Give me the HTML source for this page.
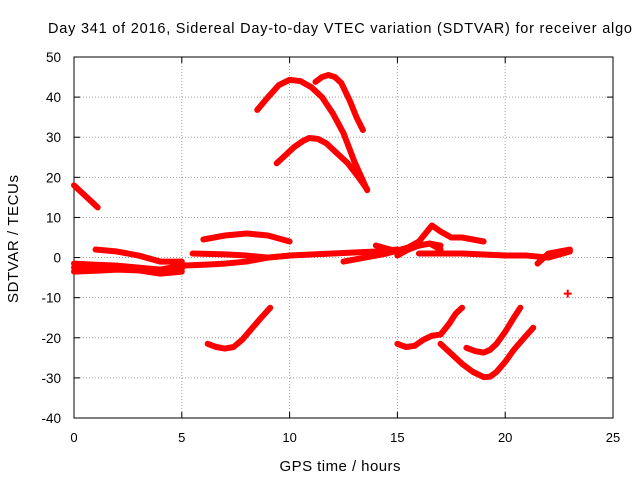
<!DOCTYPE html>
<html><head><meta charset="utf-8"><style>
body{margin:0;background:#fff}
svg{display:block;font-family:"Liberation Sans",sans-serif}
</style></head><body>
<svg id="chart" width="640" height="480">
<text x="340" y="33" font-size="14.5" text-anchor="middle" textLength="584">Day 341 of 2016, Sidereal Day-to-day VTEC variation (SDTVAR) for receiver algo</text>
<text x="340" y="471" font-size="15" text-anchor="middle" textLength="121">GPS time / hours</text>
<text transform="translate(18,239) rotate(-90)" font-size="15" text-anchor="middle" textLength="128">SDTVAR / TECUs</text>
<g id="grid"></g><g id="axes"></g><g id="series"></g>
</svg>
<script>
const xTicks=[0,5,10,15,20,25];
const yTicks=[-40,-30,-20,-10,0,10,20,30,40,50];
const trackTimes=[
[0,1.1],
[8.5,9,9.5,10,10.5,11,11.5,12,12.5,13,13.6],
[11.2,11.5,11.8,12.1,12.4,12.8,13.1,13.4],
[9.4,9.8,10.2,10.6,10.9,11.3,11.7,12.2,12.7,13.2,13.6],
[6.2,6.6,7,7.4,7.8,8.2,8.6,9.1],
[15,15.4,15.8,16.2,16.6,17,17.4,17.7,18],
[17,17.5,18,18.5,19,19.3,19.6,20,20.4,20.8,21.3],
[18.2,18.6,19,19.3,19.6,20,20.4,20.7],
[0,1,2,3,4,5],
[0,1,2,3,4,5],
[0,1,2,3,4,5],
[1,2,3,4,5],
[5,6,7,8,9,10,12,14,15],
[6,6.5,7,8,9,10],
[5.5,7,8,9,10],
[12.5,13.5,14.5,15.5,16.5,17],
[14,15,15.5,16,16.3,16.6,17,17.5,18,19],
[15,15.5,16,16.5,17],
[16,18,20,21,22,23],
[21.5,22,23]
];
const trackValues=[
[18,12.5],
[36.8,40,43,44.3,44,42.5,40,36,31,24,16.8],
[43.8,45,45.5,45,43.5,39,35,31.8],
[23.5,25.5,27.5,29,29.8,29.6,28.5,26,23.5,20,17],
[-21.5,-22.3,-22.7,-22.3,-20.5,-18,-15.5,-12.5],
[-21.5,-22.3,-22,-20.5,-19.5,-19.2,-16.5,-14,-12.5],
[-21.5,-24,-26.5,-28.5,-29.8,-29.7,-28.5,-26,-23,-20.5,-17.5],
[-22.5,-23.3,-23.7,-23,-21.5,-18.5,-15,-12.5],
[-1.5,-1.8,-2,-2.5,-3,-2],
[-3.5,-3.3,-3,-3.2,-4,-3.5],
[-2.5,-2.6,-2.5,-2.8,-3.5,-2.8],
[2,1.5,0.5,-1,-1],
[-2,-1.8,-1.5,-1,0,0.5,1,1.5,2],
[4.5,5,5.5,6,5.5,4],
[1,0.8,0.5,0,0.5],
[-1,0,1,2.5,3.5,2],
[3,1.5,2.5,4,6,8,6.5,5,5,4],
[0.5,2,3,3.5,3],
[1,1,0.5,0.5,0,1.5],
[-1.5,1,2]
];
const singlePointT=[22.9], singlePointV=[-9];
const X0=74,X1=613,Y0=418,Y1=57;
const sx=t=>X0+(t-0)/(25-0)*(X1-X0);
const sy=v=>Y0-(v+40)/90*(Y0-Y1);
const NS="http://www.w3.org/2000/svg";
function mk(tag,attrs,parent){const e=document.createElementNS(NS,tag);for(const k in attrs)e.setAttribute(k,attrs[k]);parent.appendChild(e);return e;}
const grid=document.getElementById('grid'),axes=document.getElementById('axes'),ser=document.getElementById('series');
xTicks.forEach(t=>{
 const x=sx(t);
 if(t>0&&t<25){const g=mk('line',{x1:x,x2:x,y1:Y1,y2:Y0,stroke:'#a0a0a0','stroke-dasharray':'1,2'},grid);
 
 }
 const l=mk('text',{x:x,y:Y0+24,'font-size':13,'text-anchor':'middle'},axes);l.textContent=t;
 
 
 mk('line',{x1:x,x2:x,y1:Y0,y2:Y0-6,stroke:'#000'},axes);
 mk('line',{x1:x,x2:x,y1:Y1,y2:Y1+6,stroke:'#000'},axes);
});
yTicks.forEach(v=>{
 const y=sy(v);
 if(v>-40&&v<50){const g=mk('line',{x1:X0,x2:X1,y1:y,y2:y,stroke:'#a0a0a0','stroke-dasharray':'1,2'},grid);
 
 }
 const l=mk('text',{x:X0-13,y:y+5,'font-size':13.5,'text-anchor':'end'},axes);l.textContent=v;
 
 
 mk('line',{x1:X0,x2:X0+6,y1:y,y2:y,stroke:'#000'},axes);
 mk('line',{x1:X1,x2:X1-6,y1:y,y2:y,stroke:'#000'},axes);
});
const fr=mk('rect',{x:X0,y:Y1,width:X1-X0,height:Y0-Y1,fill:'none',stroke:'#000'},axes);


trackTimes.forEach((ts,i)=>{
 const pts=ts.map((t,j)=>sx(t)+','+sy(trackValues[i][j])).join(' ');
 const p=mk('polyline',{points:pts,fill:'none',stroke:'#f00','stroke-width':6,'stroke-linejoin':'round','stroke-linecap':'round'},ser);
 
 
});
singlePointT.forEach((t,i)=>{
 const x=sx(t),y=sy(singlePointV[i]);
 const p=mk('path',{d:`M${x-4},${y}H${x+4}M${x},${y-4}V${y+4}`,stroke:'#f00','stroke-width':2},ser);
 
 
});
</script>
</body></html>
